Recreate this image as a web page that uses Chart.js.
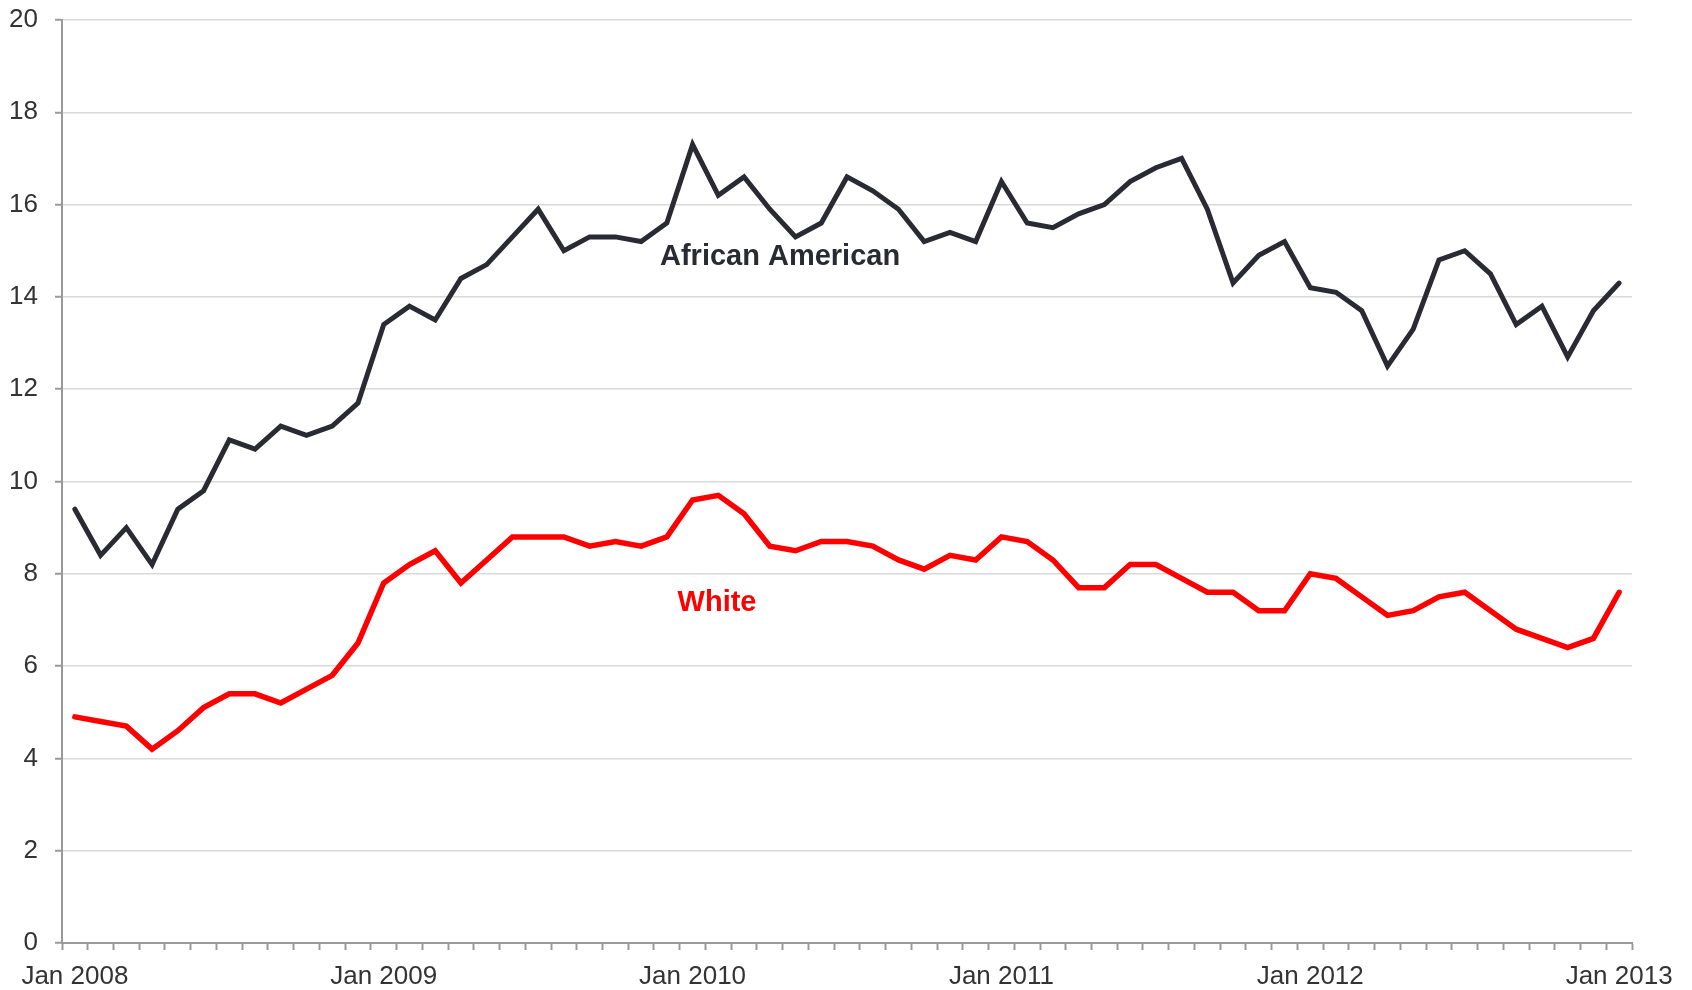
<!DOCTYPE html>
<html>
<head>
<meta charset="utf-8">
<title>Unemployment rate by race, 2008-2013</title>
<script src="https://cdn.jsdelivr.net/npm/chart.js@4.4.1/dist/chart.umd.min.js"></script>
<style>
  html, body { margin: 0; padding: 0; background: #fff; }
  #wrap { width: 1692px; height: 990px; position: relative; }
</style>
</head>
<body>
<div id="wrap"><canvas id="chart"></canvas></div>
<script>
// monthly categories Jan 2008 .. Jan 2013 (61 points)
var monthNames = ["Jan", "Feb", "Mar", "Apr", "May", "Jun", "Jul", "Aug", "Sep", "Oct", "Nov", "Dec"];
var years = [2008, 2009, 2010, 2011, 2012, 2013];

var africanAmerican = [
  9.4, 8.4, 9.0, 8.2, 9.4, 9.8, 10.9, 10.7, 11.2, 11.0, 11.2, 11.7,
  13.4, 13.8, 13.5, 14.4, 14.7, 15.3, 15.9, 15.0, 15.3, 15.3, 15.2, 15.6,
  17.3, 16.2, 16.6, 15.9, 15.3, 15.6, 16.6, 16.3, 15.9, 15.2, 15.4, 15.2,
  16.5, 15.6, 15.5, 15.8, 16.0, 16.5, 16.8, 17.0, 15.9, 14.3, 14.9, 15.2,
  14.2, 14.1, 13.7, 12.5, 13.3, 14.8, 15.0, 14.5, 13.4, 13.8, 12.7, 13.7,
  14.3
];
var white = [
  4.9, 4.8, 4.7, 4.2, 4.6, 5.1, 5.4, 5.4, 5.2, 5.5, 5.8, 6.5,
  7.8, 8.2, 8.5, 7.8, 8.3, 8.8, 8.8, 8.8, 8.6, 8.7, 8.6, 8.8,
  9.6, 9.7, 9.3, 8.6, 8.5, 8.7, 8.7, 8.6, 8.3, 8.1, 8.4, 8.3,
  8.8, 8.7, 8.3, 7.7, 7.7, 8.2, 8.2, 7.9, 7.6, 7.6, 7.2, 7.2,
  8.0, 7.9, 7.5, 7.1, 7.2, 7.5, 7.6, 7.2, 6.8, 6.6, 6.4, 6.6,
  7.6
];

var months = [];
years.forEach(function (y) {
  monthNames.forEach(function (m) {
    if (months.length < africanAmerican.length) months.push(m + " " + y);
  });
});

// inline series labels: [text, category index, value, colour]
var seriesLabels = [
  ["African American", 27.4, 14.86, "#2a2a33"],
  ["White", 24.95, 7.37, "#ff0000"]
];

var dark = "#2a2a33";
var red = "#ff0000";
var axisGray = "#999999";
var gridGray = "#d9d9d9";
var fontFamily = "'Liberation Sans', Arial, sans-serif";

var inlineLabels = {
  id: "inlineLabels",
  afterDatasetsDraw: function (chart) {
    var ctx = chart.ctx;
    var xs = chart.scales.x, ys = chart.scales.y;
    ctx.save();
    ctx.font = "bold 29px " + fontFamily;
    ctx.textAlign = "center";
    ctx.textBaseline = "middle";
    seriesLabels.forEach(function (l) {
      var i0 = Math.floor(l[1]);
      var x = xs.getPixelForValue(i0) + (l[1] - i0) * (xs.getPixelForValue(1) - xs.getPixelForValue(0));
      ctx.fillStyle = l[3];
      ctx.fillText(l[0], x, ys.getPixelForValue(l[2]));
    });
    ctx.restore();
  }
};

Chart.defaults.font.family = fontFamily;
Chart.defaults.font.size = 26;
Chart.defaults.color = "#333333";

new Chart(document.getElementById("chart"), {
  type: "line",
  data: {
    labels: months,
    datasets: [
      {
        label: "African American",
        data: africanAmerican,
        borderColor: dark,
        backgroundColor: dark,
        borderWidth: 5,
        pointRadius: 0,
        tension: 0,
        borderCapStyle: "round"
      },
      {
        label: "White",
        data: white,
        borderColor: red,
        backgroundColor: red,
        borderWidth: 5.5,
        pointRadius: 0,
        tension: 0,
        borderCapStyle: "round"
      }
    ]
  },
  options: {
    responsive: true,
    maintainAspectRatio: false,
    animation: false,
    layout: { padding: { top: 20, right: 60, left: 0, bottom: 0 } },
    plugins: {
      legend: { display: false },
      tooltip: { enabled: false }
    },
    scales: {
      x: {
        type: "category",
        offset: true,
        afterFit: function (s) { s.height = 47; },
        grid: {
          offset: true,
          drawOnChartArea: false,
          drawTicks: true,
          tickLength: 7,
          tickColor: axisGray,
          tickWidth: 2,
          color: axisGray
        },
        border: { color: axisGray, width: 2 },
        ticks: {
          autoSkip: false,
          maxRotation: 0,
          padding: 11,
          color: "#333333",
          callback: function (v, i) {
            return i % 12 === 0 ? months[i] : "";
          }
        }
      },
      y: {
        min: 0,
        max: 20,
        afterFit: function (s) {
          s.width = 62;
          s.paddingTop = 14;
          s.paddingBottom = 0;
        },
        grid: {
          color: gridGray,
          lineWidth: 1.5,
          tickLength: 7,
          tickColor: axisGray,
          tickWidth: 2
        },
        border: { color: axisGray, width: 2 },
        ticks: {
          stepSize: 2,
          padding: 17,
          color: "#333333"
        }
      }
    }
  },
  plugins: [inlineLabels]
});
</script>
</body>
</html>
